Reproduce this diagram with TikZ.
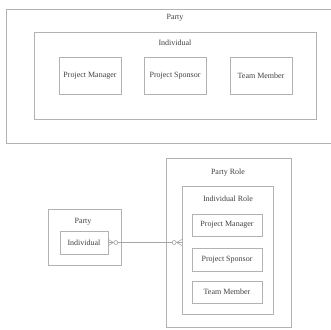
\documentclass[tikz,border=0pt]{standalone}
\usepackage{fontspec}
\setmainfont{Liberation Serif}
\begin{document}
\begin{tikzpicture}[
    x=1pt, y=-1pt,
    partyBox/.style={draw=gray!60, line width=0.7pt, inner sep=0pt},
    roleBox/.style={draw=gray!60, line width=0.7pt, inner sep=0pt, text=black!75,
        font=\fontsize{8}{9}\selectfont},
    boxTitle/.style={text=black!75, font=\fontsize{8}{9}\selectfont, inner sep=1pt},
    crowLine/.style={gray!70, line width=0.6pt}
]
    \useasboundingbox (0,0) rectangle (331,329);
    \clip (0,0) rectangle (331,329);

    % Party > Individual > roles
    \node[partyBox, minimum width=334pt, minimum height=134pt] (partyTop) at (173,76) {};
    \node[boxTitle] (partyTopTitle) at (175,18) {Party};
    \node[partyBox, minimum width=282pt, minimum height=87pt] (indivTop) at (175,75.5) {};
    \node[boxTitle] (indivTopTitle) at (175,43) {Individual};
    \node[roleBox, minimum width=62pt, minimum height=37pt] (pmTop) at (90,75.5) {Project Manager};
    \node[roleBox, minimum width=62pt, minimum height=37pt] (psTop) at (175,75.5) {Project Sponsor};
    \node[roleBox, minimum width=62pt, minimum height=37pt] (tmTop) at (261,75.5) {Team Member};

    % Party
    \node[partyBox, minimum width=73pt, minimum height=56pt] (partyBot) at (84.5,237) {};
    \node[boxTitle] (partyBotTitle) at (83,222) {Party};
    \node[roleBox, minimum width=48pt, minimum height=23pt] (indivBot) at (84,242.5) {Individual};

    % Party Role
    \node[partyBox, minimum width=125pt, minimum height=169pt] (roleBot) at (228.5,242.5) {};
    \node[boxTitle] (roleBotTitle) at (228,173) {Party Role};
    \node[partyBox, minimum width=91pt, minimum height=128pt] (indivRole) at (227.5,250) {};
    \node[boxTitle] (indivRoleTitle) at (228,199) {Individual Role};
    \node[roleBox, minimum width=70pt, minimum height=22pt] (pmBot) at (227,225) {Project Manager};
    \node[roleBox, minimum width=70pt, minimum height=23pt] (psBot) at (227,259.5) {Project Sponsor};
    \node[roleBox, minimum width=70pt, minimum height=22pt] (tmBot) at (227,292) {Team Member};

    % 关联线
    \coordinate (linkEnd) at (indivBot.east -| indivRole.west);
    \draw[crowLine] (indivBot.east) -- (linkEnd);
    \draw[crowLine] ([xshift=5pt]indivBot.east) -- ([yshift=-3pt]indivBot.east)
        ([xshift=5pt]indivBot.east) -- ([yshift=3pt]indivBot.east);
    \draw[crowLine, fill=white] ([xshift=7.5pt]indivBot.east) circle (2pt);
    \draw[crowLine] ([xshift=-5pt]linkEnd) -- ([yshift=-3pt]linkEnd)
        ([xshift=-5pt]linkEnd) -- ([yshift=3pt]linkEnd);
    \draw[crowLine, fill=white] ([xshift=-7.5pt]linkEnd) circle (2pt);
\end{tikzpicture}
\end{document}
